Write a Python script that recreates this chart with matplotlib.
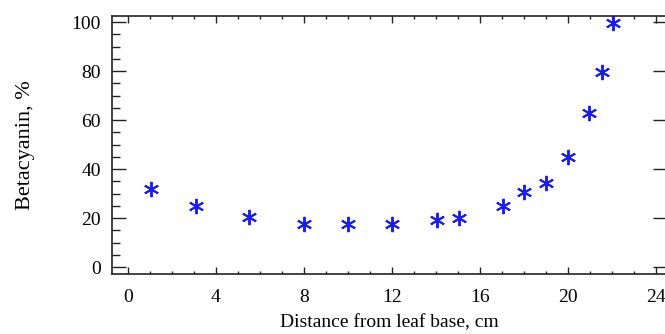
import matplotlib
matplotlib.use("Agg")
import matplotlib.pyplot as plt
from matplotlib.ticker import MultipleLocator

distance_cm = [1.05, 3.08, 5.5, 8.0, 10.0, 12.0, 14.03, 15.06, 17.03, 18.0, 18.99, 20.0, 20.97, 21.53, 22.03]
betacyanin_pct = [31.8, 24.8, 20.5, 17.6, 17.6, 17.6, 19.2, 19.9, 24.9, 30.5, 34.2, 44.8, 62.7, 79.7, 99.7]

x_ticks = [0, 4, 8, 12, 16, 20, 24]
y_ticks = [0, 20, 40, 60, 80, 100]

plt.rcParams['font.family'] = ['Liberation Serif', 'DejaVu Serif']

W, H = 665, 334
fig = plt.figure(figsize=(W / 100, H / 100), dpi=100)
left, right, top, bottom = 112, 667, 16, 273.5
ax = fig.add_axes([left / W, 1 - bottom / H, (right - left) / W, (bottom - top) / H])

ax.plot(distance_cm, betacyanin_pct, linestyle='none', marker=(6, 2, 0),
        markersize=11, markeredgewidth=1.4, color='#1a1aff', markeredgecolor='#1a1aff')

ax.set_xlim(-0.727, 24.5)
ax.set_ylim(-2.65, 102.45)
ax.set_xticks(x_ticks)
ax.set_yticks(y_ticks)
ax.xaxis.set_minor_locator(MultipleLocator(1))
ax.yaxis.set_minor_locator(MultipleLocator(5))

ax.tick_params(axis='x', which='major', direction='in', length=5, width=1, top=True,
               labelsize=14, pad=11, color='#222222')
ax.tick_params(axis='x', which='minor', direction='in', length=2.5, width=1, top=True,
               color='#222222')
ax.tick_params(axis='y', which='major', direction='in', length=10, width=1, right=True,
               labelsize=14, pad=8, color='#222222')
ax.tick_params(axis='y', which='minor', direction='in', length=6, width=1, right=False,
               color='#222222')
for s in ax.spines.values():
    s.set_linewidth(1.2)
    s.set_color('#222222')

ax.set_xlabel('Distance from leaf base, cm', fontsize=14, labelpad=6)
ax.set_ylabel('Betacyanin, %', fontsize=16, labelpad=26)

fig.savefig('out.png', dpi=100)
